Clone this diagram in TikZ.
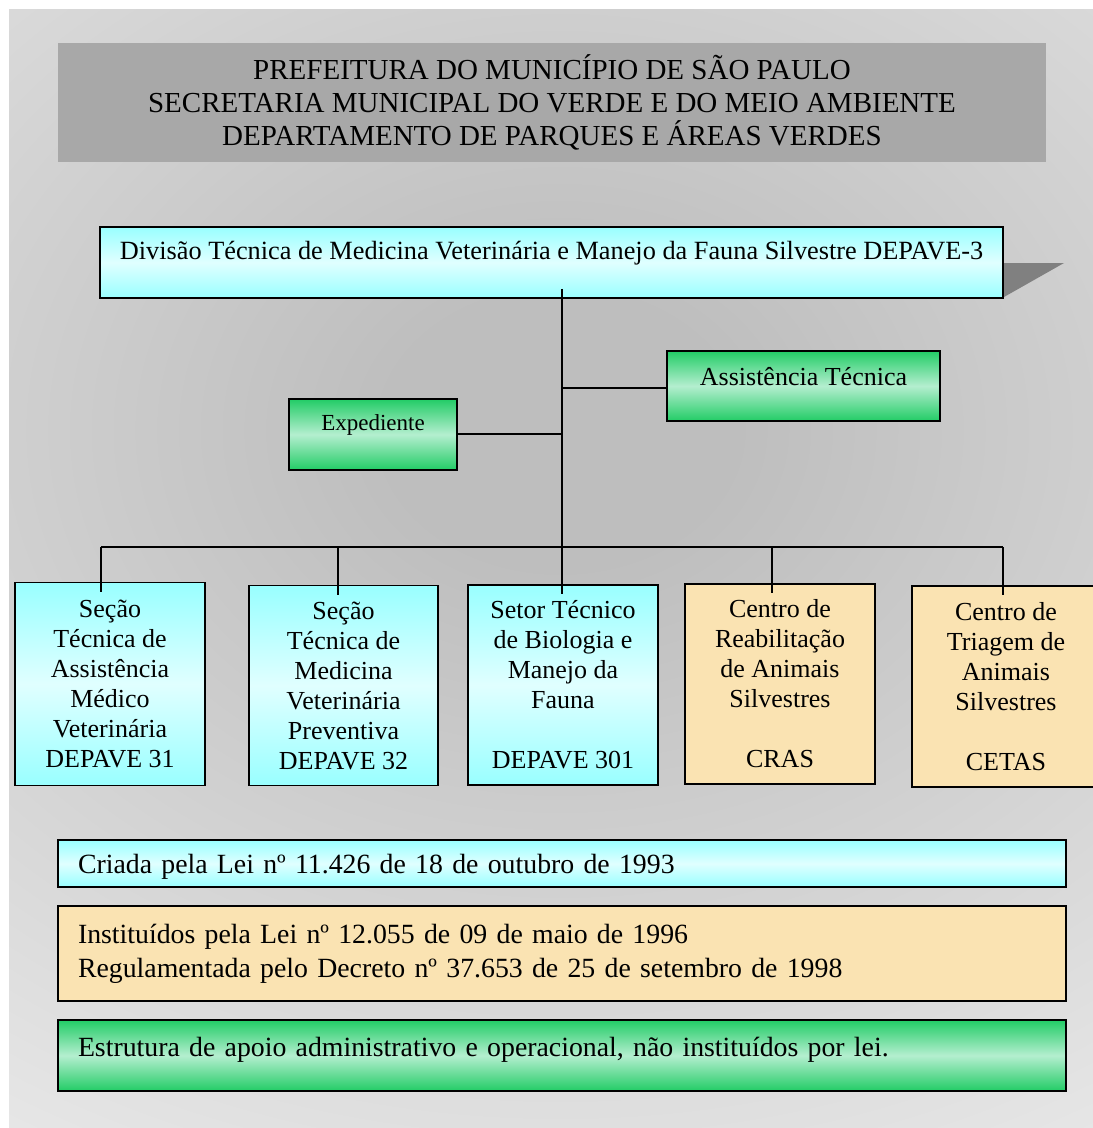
\documentclass[tikz,border=0pt]{standalone}
\usepackage{fontspec}
\setmainfont{Liberation Serif}
\usetikzlibrary{calc}
\definecolor{bgout}{HTML}{E8E8E8}
\definecolor{bgin}{HTML}{BEBEBE}
\definecolor{hdr}{HTML}{A8A8A8}
\definecolor{cyE}{HTML}{99FFFF}
\definecolor{cyM}{HTML}{E0FFFF}
\definecolor{grE}{HTML}{22CC66}
\definecolor{grM}{HTML}{B4EECF}
\definecolor{peach}{HTML}{FAE3B2}
\definecolor{shd}{HTML}{808080}
\pgfdeclareradialshading{bgrad}{\pgfpoint{0bp}{0bp}}{color(0bp)=(bgin); color(4bp)=(bgin); color(25bp)=(bgout); color(50bp)=(bgout)}
\begin{document}
\begin{tikzpicture}[x=1pt,y=-1pt,
  box/.style={draw=black, line width=1.6pt, inner sep=0pt, align=center},
  cybox/.style={box, top color=cyE, bottom color=cyE, middle color=cyM},
  grbox/.style={box, top color=grE, bottom color=grE, middle color=grM},
  pcbox/.style={box, fill=peach},
  link/.style={line width=1.6pt, draw=black},
  big/.style={font=\fontsize{26}{30}\selectfont},
  mainfont/.style={font=\fontsize{26.3}{30}\selectfont},
  hdrfont/.style={font=\fontsize{29}{33}\selectfont},
  legfont/.style={font=\fontsize{27.8}{34}\selectfont},
  legend/.style={minimum width=1008pt, text width=968pt, inner xsep=20pt, inner ysep=0pt, align=left, legfont},
  lower/.style={minimum width=190pt, minimum height=200pt, big}
]
\useasboundingbox (0,0) rectangle (1093,1128);
% background
\fill[bgout] (9,9) rectangle (1093,1128);
\begin{scope}
  \clip (9,9) rectangle (1093,1128);
  \shade[shading=bgrad] (-530,-420) rectangle (1650,1280);
\end{scope}
% header
\node[fill=hdr, minimum width=988pt, minimum height=119pt, align=center, hdrfont, inner sep=0pt] (hdr) at (552,102.5)
  {PREFEITURA DO MUNICÍPIO DE SÃO PAULO\\SECRETARIA MUNICIPAL DO VERDE E DO MEIO AMBIENTE\\DEPARTAMENTO DE PARQUES E ÁREAS VERDES};
% shadow of main box
\fill[shd] (1003,263) -- (1064,263) -- (1004,297) -- cycle;
% main box
\node[cybox, minimum width=903pt, minimum height=71pt, mainfont] (main) at (551.5,262.5)
  {\raisebox{9.5pt}[\height][\depth]{Divisão Técnica de Medicina Veterinária e Manejo da Fauna Silvestre DEPAVE-3}};
\node[grbox, minimum width=273pt, minimum height=70pt, big] (assist) at (803.5,386)
  {\raisebox{9pt}[\height][\depth]{Assistência Técnica}};
\node[grbox, minimum width=168pt, minimum height=71pt, font=\fontsize{23}{27}\selectfont] (exped) at (373,434.5)
  {\raisebox{10pt}[\height][\depth]{Expediente}};
% lower boxes
\node[cybox, lower, minimum height=203pt] (b1) at (110,684)
  {Seção\\Técnica de\\Assistência\\Médico\\Veterinária\\DEPAVE 31};
\node[cybox, lower, minimum width=189pt] (b2) at (343.5,685.5)
  {Seção\\Técnica de\\Medicina\\Veterinária\\Preventiva\\DEPAVE 32};
\node[cybox, lower] (b3) at (563,685)
  {Setor Técnico\\de Biologia e\\Manejo da\\Fauna\\[30pt]DEPAVE 301};
\node[pcbox, lower] (b4) at (780,684)
  {Centro de\\Reabilitação\\de Animais\\Silvestres\\[30pt]CRAS};
\node[pcbox, lower, minimum width=188pt, minimum height=201pt] (b5) at (1006,686.5)
  {Centro de\\Triagem de\\Animais\\Silvestres\\[30pt]CETAS};
% legend boxes
\node[cybox, legend, minimum height=47pt] (la) at (562,863.5)
  {\raisebox{-3.5pt}[\height][\depth]{Criada pela Lei nº 11.426 de 18 de outubro de 1993}};
\node[pcbox, legend, minimum height=95pt] (lb) at (562,953.5)
  {Instituídos pela Lei nº 12.055 de 09 de maio de 1996\\Regulamentada pelo Decreto nº 37.653 de 25 de setembro de 1998};
\node[grbox, legend, minimum height=71pt] (lc) at (562,1055.5)
  {\raisebox{5.5pt}[\height][\depth]{Estrutura de apoio administrativo e operacional, não instituídos por lei.}};
% connectors
\coordinate (ttop) at ($(main.south)+(10.5,-10)$);
\coordinate (jA) at (562,388);
\coordinate (bL) at (101,547);
\coordinate (j2) at (338,547);
\coordinate (j4) at (772,547);
\coordinate (bR) at (1003,547);
\draw[link] (ttop) -- ($(b3.north)+(-1,10)$);
\draw[link] (jA) -- (jA -| assist.west);
\draw[link] ($(exped.east)+(0,-0.5)$) -- ($(exped.east -| ttop)+(0,-0.5)$);
\draw[link] (bL) -- (bR);
\draw[link] (bL) -- ($(bL |- b1.north)+(0,10)$);
\draw[link] (j2) -- ($(j2 |- b2.north)+(0,10)$);
\draw[link] (j4) -- ($(j4 |- b4.north)+(0,10)$);
\draw[link] (bR) -- ($(bR |- b5.north)+(0,10)$);
\end{tikzpicture}
\end{document}
